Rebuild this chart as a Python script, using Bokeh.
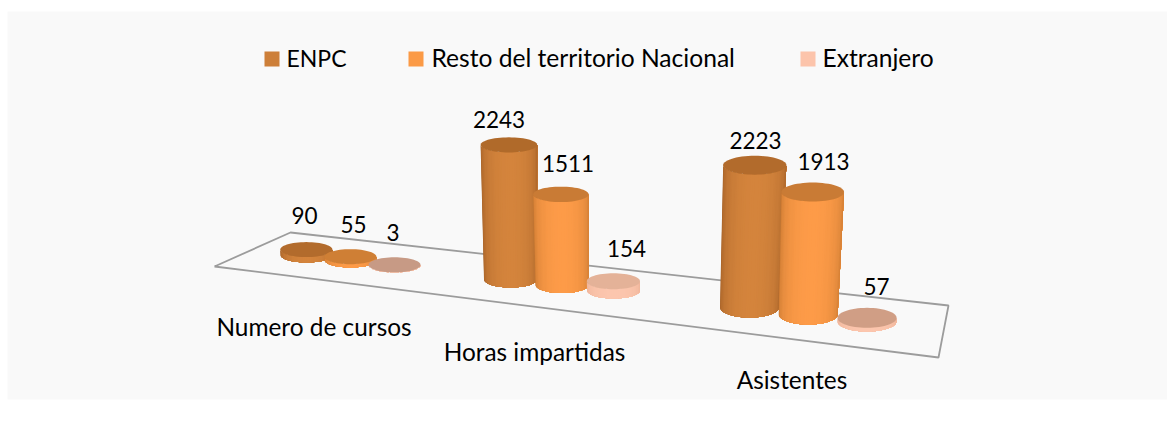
import math
from bokeh.plotting import figure
from bokeh.models import Range1d
from bokeh.core.properties import value
from bokeh.embed import file_html
from bokeh.resources import INLINE

# ---- data
categories = ["Numero de cursos", "Horas impartidas", "Asistentes"]
series_names = ["ENPC", "Resto del territorio Nacional", "Extranjero"]
enpc = [90, 2243, 2223]
resto = [55, 1511, 1913]
extranjero = [3, 154, 57]
series_values = [enpc, resto, extranjero]

# ---- colours
legend_colors = ["#cd7f39", "#fb9a46", "#fcc4ab"]
side_center = [(212, 132, 60), (253, 155, 72), (252, 198, 174)]
side_edge = [(160, 94, 38), (196, 118, 48), (236, 176, 148)]
top_colors = [["#b26b2c", "#cf7f35", "#c79a85"],
              ["#b06a2a", "#c97b35", "#e4b298"],
              ["#b26b2c", "#c97b35", "#d09e85"]]
text_color = "#000000"
font = "Lato"

# ---- layout of the projected 3D floor (pixels of the page)
group_x = [306, 510, 749]
group_y = [254.5, 279, 307]
step_x = [44, 51.5, 58.7]
step_y = [5, 5.5, 7]
radius_x = [26, 26.5, 29.5]
radius_y = [7.5, 8, 10]
px_per_value = [0.06, 0.06, 0.064]
lean = [-0.03, -0.012, 0.037]
floor_x = [214, 290, 948, 938, 214]
floor_y = [266, 232, 305, 357, 266]
label_x = [[304, 353, 392.5], [498.5, 567.5, 626], [755, 823, 876]]
label_y = [[214.5, 223.5, 231.5], [119, 163, 248], [139.5, 161, 286]]
cat_x = [313.5, 534, 791.5]
cat_y = [326, 351, 379]
legend_square_x = [264, 408, 800]
legend_text_x = [286, 431, 822]
legend_font_px = [23, 24.6, 24.6]

p = figure(width=1167, height=418, output_backend="svg", toolbar_location=None,
           x_range=Range1d(0, 1167), y_range=Range1d(418, 0), min_border=0,
           background_fill_color="#ffffff", border_fill_color="#ffffff")
p.axis.visible = False
p.grid.visible = False
p.outline_line_color = None

p.quad(left=[7], right=[1167], top=[11], bottom=[399], fill_color="#f9f9f9", line_color=None)
p.line(floor_x, floor_y, line_color="#9c9c9c", line_width=1.8)


def mix(a, b, t):
    return "#%02x%02x%02x" % tuple(round(a[i] + (b[i] - a[i]) * t) for i in range(3))


N = 36
for g in range(3):
    for s in range(3):
        h = series_values[s][g] * px_per_value[g]
        cx = group_x[g] + s * step_x[g]
        by = group_y[g] + s * step_y[g]
        rx_b, ry_b = radius_x[g], radius_y[g]
        rx_t = rx_b * (1 + 0.0005 * h)
        ry_t = ry_b * (1 - 0.0004 * h)
        tx = cx + lean[g] * h
        ty = by - h
        # each strip runs to the right edge; later strips paint over it, so no seams show
        for i in range(N):
            angles = [math.pi * (1 - j / 48) for j in range(49) if j >= i * 48 / N]
            am = math.pi * (1 - (i + 0.5) / N)
            shade = max(0.0, math.sin(am)) ** 0.7
            xs = [cx + rx_b * math.cos(a) for a in angles] + [tx + rx_t * math.cos(a) for a in reversed(angles)]
            ys = [by + ry_b * math.sin(a) for a in angles] + [ty + ry_t * math.sin(a) for a in reversed(angles)]
            p.patch(xs, ys, fill_color=mix(side_edge[s], side_center[s], shade), line_color=None)
        ex = [tx + rx_t * math.cos(2 * math.pi * k / 60) for k in range(60)]
        ey = [ty + ry_t * math.sin(2 * math.pi * k / 60) for k in range(60)]
        p.patch(ex, ey, fill_color=top_colors[g][s], line_color=None)
        p.text([label_x[g][s]], [label_y[g][s]], text=[str(series_values[s][g])],
               text_font=value(font), text_font_size="22.5px", text_color=text_color,
               text_align="center", text_baseline="middle")

p.text(cat_x, cat_y, text=categories, text_font=value(font), text_font_size="24.4px",
       text_color=text_color, text_align="center", text_baseline="middle")

for i in range(3):
    p.quad(left=[legend_square_x[i]], right=[legend_square_x[i] + 15], top=[51], bottom=[66],
           fill_color=legend_colors[i], line_color=None)
    p.text([legend_text_x[i]], [57], text=[series_names[i]], text_font=value(font),
           text_font_size=f"{legend_font_px[i]}px", text_color=text_color,
           text_align="left", text_baseline="middle")

open("out.html", "w").write(file_html(p, INLINE))
